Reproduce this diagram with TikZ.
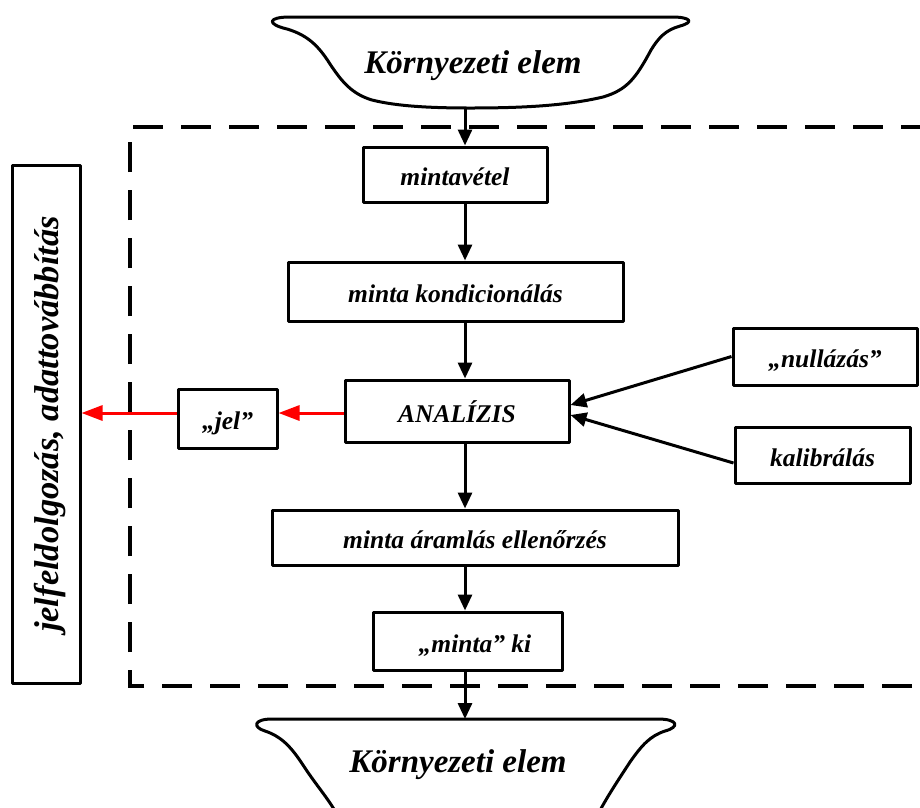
\documentclass[tikz,border=0pt]{standalone}
\usepackage{fontspec}
\setmainfont{Liberation Serif}
\usetikzlibrary{arrows.meta}
\begin{document}
\begin{tikzpicture}[x=1pt,y=-1pt,
  box/.style={draw, line width=3pt, rectangle, inner sep=0pt, line join=round,
    text height=22pt, text depth=0pt,
    font=\bfseries\itshape\fontsize{25.5}{30}\selectfont},
  big/.style={font=\bfseries\itshape\fontsize{33}{40}\selectfont},
  bowl/.style={line width=3pt, line join=round},
  flow/.style={line width=3pt, -{Triangle[length=16pt,width=14pt]}},
  sig/.style={line width=3pt, red, -{Triangle[length=21pt,width=15pt]}},
  frame/.style={line width=3.5pt, dash pattern=on 30pt off 18pt}]
\useasboundingbox (0,0) rectangle (920,807);
\clip (0,0) rectangle (920,807);
\coordinate (ax) at (465,0);
\coordinate (ry) at (0,413);
% dashed frame
\draw[frame] (960,686) -- (130,686) -- (130,127) -- (960,127);
% top bowl
\draw[bowl] (290,17) -- (672,17) .. controls (690,17) and (695,22) .. (680,26)
  .. controls (666,30) and (659,37) .. (651,50)
  .. controls (636,78) and (627,90) .. (603,97)
  .. controls (565,106) and (520,108) .. (470,108)
  .. controls (420,108) and (392,105) .. (372,100)
  .. controls (352,94) and (342,82) .. (330,64)
  .. controls (318,45) and (307,35) .. (287,29)
  .. controls (266,24) and (268,17) .. (290,17) -- cycle;
\node[big, anchor=base] (env1) at (473,73) {Környezeti elem};
\coordinate (env1b) at (465,108);
% bottom bowl
\draw[bowl] (272,719) -- (658,719) .. controls (678,719) and (680,727) .. (665,731)
  .. controls (650,736) and (642,745) .. (630,762)
  .. controls (615,785) and (605,800) .. (595,820)
  -- (340,820)
  .. controls (330,800) and (318,788) .. (303,765)
  .. controls (290,745) and (280,736) .. (265,731)
  .. controls (252,727) and (254,719) .. (272,719) -- cycle;
\node[big, anchor=base] (env2) at (458,772) {Környezeti elem};
\coordinate (env2t) at (465,719);
% boxes
\node[box, minimum width=184pt, minimum height=55pt] (mv) at (455,174.5) {mintavétel};
\node[box, minimum width=335pt, minimum height=59pt] (kond) at (455.5,291.5) {minta kondicionálás};
\node[box, minimum width=224pt, minimum height=62pt] (ana) at (457,411) {ANALÍZIS};
\node[box, minimum width=99pt, minimum height=59pt] (jel) at (227.5,418.5) {„jel”};
\node[box, minimum width=184pt, minimum height=57pt] (null) at (825,356.5) {„nullázás”};
\node[box, minimum width=175pt, minimum height=56pt] (kal) at (822.5,455) {kalibrálás};
\node[box, minimum width=406pt, minimum height=55pt] (aram) at (475,537.5) {minta áramlás ellenőrzés};
\node[box, minimum width=189pt, minimum height=58pt] (ki) at (467.5,641) {\hspace*{15pt}„minta” ki};
\node[draw, line width=3pt, line join=round, inner sep=0pt, rotate=90,
  minimum width=518pt, minimum height=68pt, text height=24pt, text depth=0pt,
  font=\bfseries\itshape\fontsize{34.5}{40}\selectfont] (proc) at (46,424)
  {jelfeldolgozás, adattovábbítás};
% flow arrows
\draw[flow] (env1b) -- (mv.north -| ax);
\draw[flow] (mv.south -| ax) -- (kond.north -| ax);
\draw[flow] (kond.south -| ax) -- (ana.north -| ax);
\draw[flow] (ana.south -| ax) -- (aram.north -| ax);
\draw[flow] (aram.south -| ax) -- (ki.north -| ax);
\draw[flow] (ki.south -| ax) -- (env2t);
\draw[flow] (null.west) -- ([yshift=6pt]ana.east);
\draw[flow] ([yshift=-8pt]kal.west) -- ([yshift=-4pt]ana.east);
% signal arrows
\draw[sig] (ana.west |- ry) -- (jel.east |- ry);
\draw[sig] (jel.west |- ry) -- (proc.south |- ry);
\end{tikzpicture}
\end{document}
